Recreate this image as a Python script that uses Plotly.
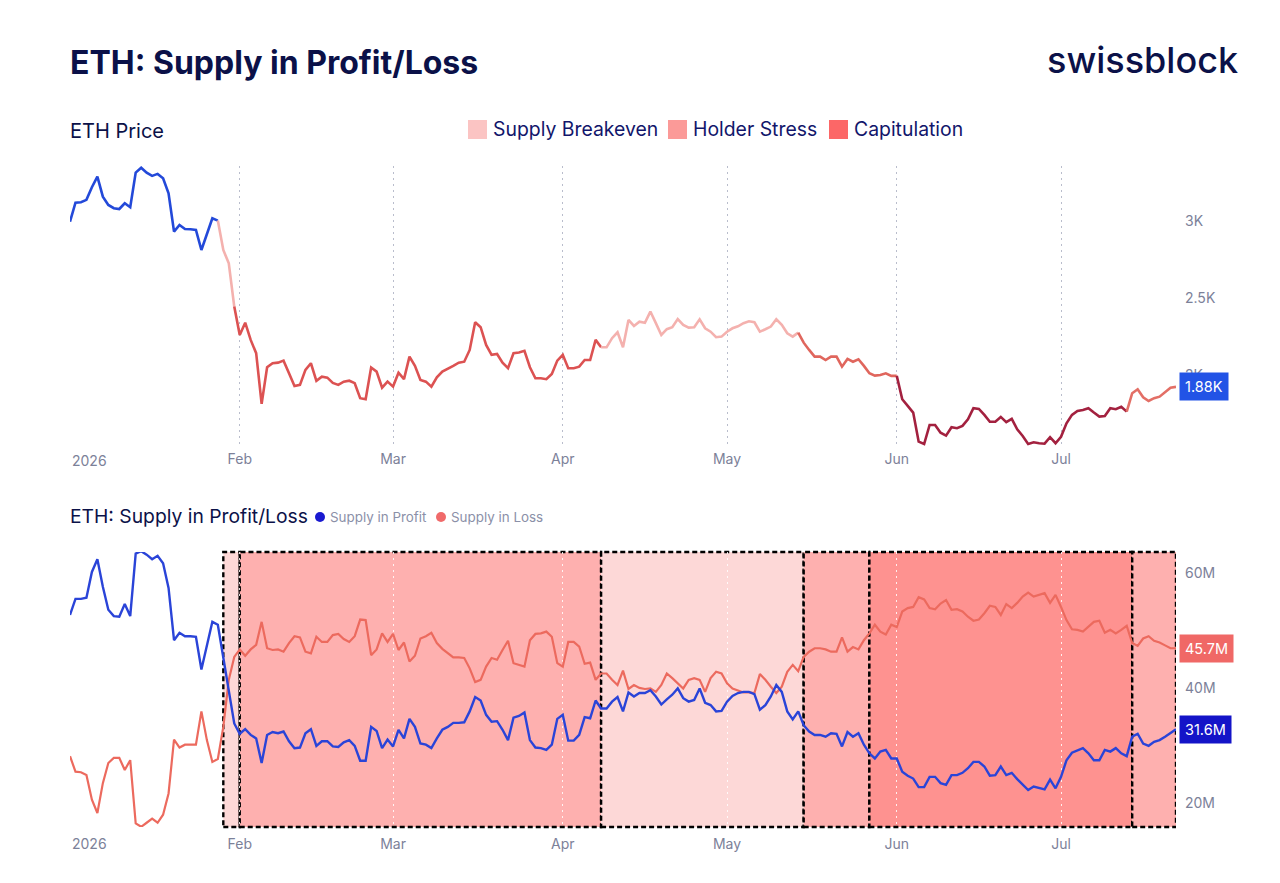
import pandas as pd
import plotly.graph_objects as go

# ---------------- data ----------------
dates = pd.date_range("2026-01-01", "2026-07-22", freq="D")

eth_price = [
    2948, 3071, 3074, 3089, 3171, 3239, 3110, 3056, 3035, 3030,
    3067, 3041, 3265, 3297, 3265, 3244, 3257, 3229, 3132, 2884,
    2927, 2901, 2899, 2895, 2765, 2873, 2970, 2955, 2765, 2679,
    2399, 2216, 2295, 2184, 2098, 1770, 2007, 2033, 2037, 2050,
    1968, 1886, 1893, 1990, 2033, 1919, 1946, 1940, 1906, 1893,
    1914, 1920, 1904, 1807, 1800, 2005, 1979, 1875, 1914, 1882,
    1972, 1930, 2076, 2016, 1925, 1914, 1882, 1942, 1979, 1996,
    2016, 2037, 2043, 2119, 2298, 2266, 2151, 2087, 2093, 2037,
    2001, 2098, 2102, 2113, 2007, 1936, 1936, 1930, 1964, 2050,
    2087, 2001, 2001, 2011, 2054, 2054, 2184, 2136, 2136, 2195,
    2233, 2136, 2313, 2274, 2302, 2295, 2367, 2292, 2216, 2253,
    2266, 2319, 2281, 2263, 2266, 2317, 2259, 2237, 2201, 2205,
    2237, 2259, 2272, 2292, 2304, 2298, 2237, 2253, 2270, 2317,
    2281, 2227, 2205, 2231, 2166, 2119, 2076, 2076, 2054, 2076,
    2076, 2011, 2061, 2043, 2059, 2016, 1968, 1953, 1957, 1968,
    1951, 1951, 1800, 1757, 1714, 1526, 1511, 1634, 1634, 1584,
    1565, 1619, 1613, 1628, 1671, 1742, 1738, 1699, 1655, 1655,
    1686, 1652, 1673, 1606, 1563, 1511, 1522, 1516, 1513, 1555,
    1516, 1558, 1645, 1699, 1725, 1731, 1742, 1714, 1688, 1692,
    1742, 1736, 1752, 1720, 1839, 1865, 1813, 1789, 1807, 1817,
    1849, 1875, 1880,
]

supply_in_profit = [
    51.5, 54.3, 54.3, 54.5, 59.0, 61.2, 56.4, 52.4, 51.3, 51.2,
    53.4, 51.3, 62.2, 62.6, 62.0, 61.2, 61.8, 60.5, 56.2, 47.1,
    48.4, 47.8, 47.8, 47.7, 42.0, 46.3, 50.3, 49.8, 44.2, 37.9,
    32.6, 30.8, 31.6, 30.6, 30.0, 25.7, 30.6, 31.1, 30.9, 31.2,
    29.5, 28.3, 28.4, 30.9, 31.6, 28.7, 29.5, 29.5, 28.6, 28.5,
    29.3, 29.7, 28.7, 26.1, 26.1, 32.0, 31.3, 28.3, 29.8, 28.6,
    31.5, 30.0, 33.4, 32.0, 29.1, 28.9, 28.3, 30.0, 31.5, 32.0,
    32.7, 32.7, 32.8, 34.7, 37.2, 36.6, 34.1, 32.9, 33.0, 31.5,
    29.7, 33.6, 33.9, 34.5, 29.7, 28.4, 28.3, 28.0, 28.9, 33.4,
    34.1, 29.6, 29.6, 30.6, 33.7, 33.5, 36.6, 35.2, 35.2, 36.4,
    37.2, 34.7, 38.0, 37.3, 37.9, 37.9, 38.4, 37.3, 35.9, 36.8,
    37.6, 38.7, 37.0, 36.4, 36.7, 38.7, 36.2, 35.8, 34.7, 34.8,
    36.4, 37.4, 37.9, 38.1, 38.1, 37.7, 35.0, 35.8, 37.3, 39.3,
    38.1, 34.7, 33.3, 34.7, 32.3, 31.2, 30.6, 30.6, 30.3, 30.9,
    30.8, 28.6, 31.1, 30.3, 30.9, 28.9, 27.4, 26.5, 27.7, 28.0,
    26.5, 26.5, 24.2, 23.5, 23.0, 21.5, 21.5, 23.3, 23.3, 22.2,
    21.9, 23.6, 23.6, 24.0, 24.8, 25.9, 25.9, 25.1, 23.5, 23.6,
    25.1, 23.6, 24.0, 22.9, 21.9, 21.0, 21.6, 21.3, 21.1, 22.8,
    21.3, 23.3, 26.2, 27.5, 27.9, 28.3, 27.4, 26.2, 26.2, 28.0,
    27.7, 28.3, 27.4, 26.9, 30.3, 30.8, 29.1, 28.7, 29.4, 29.7,
    30.3, 30.9, 31.6,
]

supply_in_loss = [
    26.9, 24.2, 24.1, 23.6, 19.3, 17.0, 22.2, 25.7, 26.6, 26.6,
    24.5, 26.2, 15.2, 14.6, 15.3, 16.0, 15.3, 16.7, 20.4, 29.8,
    28.4, 28.9, 28.9, 28.9, 34.7, 29.7, 25.9, 26.4, 32.0, 40.2,
    44.2, 45.5, 44.4, 45.5, 46.3, 50.3, 45.7, 45.4, 45.5, 45.1,
    46.6, 47.8, 47.6, 45.1, 44.8, 47.7, 46.8, 46.8, 48.0, 48.2,
    47.3, 46.8, 47.8, 50.7, 50.6, 44.5, 45.5, 48.3, 46.8, 48.2,
    45.4, 46.7, 43.4, 44.4, 47.4, 47.8, 48.4, 46.6, 45.6, 44.8,
    44.1, 44.1, 44.0, 42.2, 39.8, 40.2, 42.5, 44.0, 43.7, 45.4,
    47.0, 43.1, 42.8, 42.5, 47.1, 48.2, 48.3, 48.6, 47.7, 43.1,
    42.5, 46.8, 46.8, 46.0, 43.0, 43.2, 40.2, 41.3, 41.3, 40.2,
    39.3, 41.8, 38.6, 39.3, 38.8, 38.6, 38.7, 38.1, 39.3, 41.3,
    40.5, 39.6, 38.7, 40.2, 40.5, 40.2, 38.1, 40.5, 41.6, 41.3,
    39.6, 38.7, 38.4, 38.0, 38.0, 37.9, 41.2, 40.2, 39.0, 37.9,
    39.0, 41.6, 42.8, 41.7, 44.2, 45.1, 45.7, 45.7, 45.5, 45.1,
    45.1, 47.6, 45.1, 45.9, 45.5, 47.1, 48.3, 49.8, 48.6, 48.1,
    49.8, 49.4, 52.1, 52.7, 52.9, 54.6, 54.2, 52.7, 52.5, 53.5,
    54.1, 52.4, 52.5, 52.1, 51.2, 50.5, 50.7, 51.8, 53.1, 52.9,
    51.5, 53.4, 52.7, 53.6, 54.7, 55.4, 54.7, 55.0, 55.3, 53.6,
    55.0, 52.9, 50.6, 49.0, 48.9, 48.6, 49.5, 50.3, 50.5, 48.4,
    48.9, 48.3, 48.9, 49.6, 46.6, 46.1, 47.4, 47.8, 47.0, 46.7,
    46.2, 45.7, 45.7,
]

# regime segments of the price line
price_seg_start = ["2026-01-01", "2026-01-28", "2026-01-31", "2026-04-08",
                   "2026-05-14", "2026-06-01", "2026-07-13"]
price_seg_end = ["2026-01-28", "2026-01-31", "2026-04-08", "2026-05-14",
                 "2026-06-01", "2026-07-13", "2026-07-22"]
price_seg_color = ["#2349d9", "#f4b1ae", "#dc5252", "#f4b1ae",
                   "#e0665d", "#a3213f", "#e36f66"]

# regime zones in the supply panel
zone_start = ["2026-01-29", "2026-02-01", "2026-04-08", "2026-05-15",
              "2026-05-27", "2026-07-14"]
zone_end = ["2026-02-01", "2026-04-08", "2026-05-15", "2026-05-27",
            "2026-07-14", "2026-07-22"]
zone_type = ["Supply Breakeven", "Holder Stress", "Supply Breakeven",
             "Holder Stress", "Capitulation", "Holder Stress"]

regime_names = ["Supply Breakeven", "Holder Stress", "Capitulation"]
regime_legend_color = {"Supply Breakeven": "#fbc4c3", "Holder Stress": "#fb9a98",
                       "Capitulation": "#fc6767"}
regime_fill_color = {"Supply Breakeven": "#fdd8d7", "Holder Stress": "#feb0af",
                     "Capitulation": "#fe9290"}

month_ticks = ["2026-02-01", "2026-03-01", "2026-04-01", "2026-05-01",
               "2026-06-01", "2026-07-01"]
month_labels = ["Feb", "Mar", "Apr", "May", "Jun", "Jul"]
price_ticks = [2000, 2500, 3000]
price_tick_labels = ["2K", "2.5K", "3K"]
supply_ticks = [20, 40, 60]
supply_tick_labels = ["20M", "40M", "60M"]

# ---------------- styling helpers ----------------
W, H = 1280, 883
ML, MR = 70, 104
PW = W - ML - MR


def px(x):
    return (x - ML) / PW


def py(y):
    return 1 - y / H


NAVY = "#0b1148"
GRAY = "#7c8199"
FONT = "Inter"

fig = go.Figure()

# ---- top panel: price line coloured by regime ----
for s, e, c in zip(price_seg_start, price_seg_end, price_seg_color):
    i0 = dates.get_loc(pd.Timestamp(s))
    i1 = dates.get_loc(pd.Timestamp(e))
    fig.add_trace(go.Scatter(
        x=dates[i0:i1 + 1], y=eth_price[i0:i1 + 1], mode="lines",
        line=dict(color=c, width=2.6), xaxis="x", yaxis="y",
        showlegend=False, hoverinfo="skip"))

# ---- bottom panel ----
fig.add_trace(go.Scatter(x=dates, y=supply_in_loss, mode="lines",
                         line=dict(color="#ec6a5e", width=2.2),
                         xaxis="x2", yaxis="y2", showlegend=False))
fig.add_trace(go.Scatter(x=dates, y=supply_in_profit, mode="lines",
                         line=dict(color="#2a44d8", width=2.4),
                         xaxis="x2", yaxis="y2", showlegend=False))

shapes = []
for s, e, t in zip(zone_start, zone_end, zone_type):
    shapes.append(dict(type="rect", xref="x2", yref="y2 domain",
                       x0=s, x1=e, y0=0, y1=1, layer="below",
                       fillcolor=regime_fill_color[t],
                       line=dict(color="black", width=2.4, dash="5px,3px")))

# top legend squares + text
annotations = []
leg_x = [468, 668, 829]
for name, x0 in zip(regime_names, leg_x):
    shapes.append(dict(type="rect", xref="paper", yref="paper",
                       x0=px(x0), x1=px(x0 + 19), y0=py(139), y1=py(120),
                       fillcolor=regime_legend_color[name], line=dict(width=0)))
    annotations.append(dict(text=name, xref="paper", yref="paper",
                            x=px(x0 + 23), y=py(129), xanchor="left", yanchor="middle",
                            showarrow=False, font=dict(family=FONT, size=19.4, color="#12166b")))

# bottom legend dots
for x0, col, label in [(315, "#1a1ad0", "Supply in Profit"), (436, "#f06a6a", "Supply in Loss")]:
    shapes.append(dict(type="circle", xref="paper", yref="paper",
                       x0=px(x0), x1=px(x0 + 10), y0=py(522), y1=py(512),
                       fillcolor=col, line=dict(width=0)))
    annotations.append(dict(text=label, xref="paper", yref="paper",
                            x=px(x0 + 13), y=py(517), xanchor="left", yanchor="middle",
                            showarrow=False, font=dict(family=FONT, size=13.4, color="#8b90a8")))

# titles
annotations += [
    dict(text="ETH: Supply in Profit/Loss", xref="paper", yref="paper", x=px(68), y=py(62),
         xanchor="left", yanchor="middle", showarrow=False,
         font=dict(family=FONT, size=32, color=NAVY, weight=700)),
    dict(text="swissblock", xref="paper", yref="paper", x=px(1240), y=py(60),
         xanchor="right", yanchor="middle", showarrow=False,
         font=dict(family=FONT, size=36, color=NAVY, weight=500)),
    dict(text="ETH Price", xref="paper", yref="paper", x=px(68), y=py(131),
         xanchor="left", yanchor="middle", showarrow=False,
         font=dict(family=FONT, size=20, color=NAVY)),
    dict(text="ETH: Supply in Profit/Loss", xref="paper", yref="paper", x=px(68), y=py(516),
         xanchor="left", yanchor="middle", showarrow=False,
         font=dict(family=FONT, size=19.3, color=NAVY)),
    dict(text="2026", xref="x", yref="paper", x=dates[0], y=py(460),
         xanchor="left", yanchor="middle", showarrow=False,
         font=dict(family=FONT, size=14, color=GRAY)),
    dict(text="2026", xref="x2", yref="paper", x=dates[0], y=py(843),
         xanchor="left", yanchor="middle", showarrow=False,
         font=dict(family=FONT, size=14, color=GRAY)),
]

# last-value badges
badges = [
    ("y", eth_price[-1], f"{eth_price[-1] / 1000:.2f}K", "#2253e6"),
    ("y2", supply_in_loss[-1], f"{supply_in_loss[-1]:.1f}M", "#f06866"),
    ("y2", supply_in_profit[-1], f"{supply_in_profit[-1]:.1f}M", "#1414c8"),
]
for yref, val, txt, col in badges:
    annotations.append(dict(text=txt, xref="paper", yref=yref, x=1, y=val,
                            xanchor="left", yanchor="middle", xshift=3, showarrow=False,
                            bgcolor=col, borderpad=5,
                            font=dict(family=FONT, size=14.5, color="white")))

axis_font = dict(family=FONT, size=14, color=GRAY)
xcommon = dict(type="date", range=[dates[0], dates[-1]], tickvals=month_ticks,
               ticktext=month_labels, showgrid=True, gridwidth=1.3, zeroline=False,
               showline=False, ticks="", tickfont=axis_font, domain=[0, 1])

fig.update_layout(
    width=W, height=H,
    margin=dict(l=ML, r=MR, t=0, b=0),
    paper_bgcolor="white", plot_bgcolor="white",
    showlegend=False, hovermode=False,
    xaxis=dict(**xcommon, anchor="y", gridcolor="#b9bdcc", griddash="2px,4px",
               ticklabelstandoff=3),
    xaxis2=dict(**xcommon, anchor="y2", gridcolor="rgba(255,255,255,0.85)", griddash="2px,4px",
                ticklabelstandoff=7),
    yaxis=dict(domain=[py(446), py(166)], range=[1498, 3308], side="right", anchor="x",
               tickvals=price_ticks, ticktext=price_tick_labels, showgrid=False,
               zeroline=False, ticks="", tickfont=axis_font,
               ticklabelshift=7, ticklabelstandoff=8),
    yaxis2=dict(domain=[py(827), py(552)], range=[14.56, 62.47], side="right", anchor="x2",
                tickvals=supply_ticks, ticktext=supply_tick_labels, showgrid=False,
                zeroline=False, ticks="", tickfont=axis_font,
                ticklabelshift=7, ticklabelstandoff=8),
    shapes=shapes,
    annotations=annotations,
)

fig.write_html("out.html")
